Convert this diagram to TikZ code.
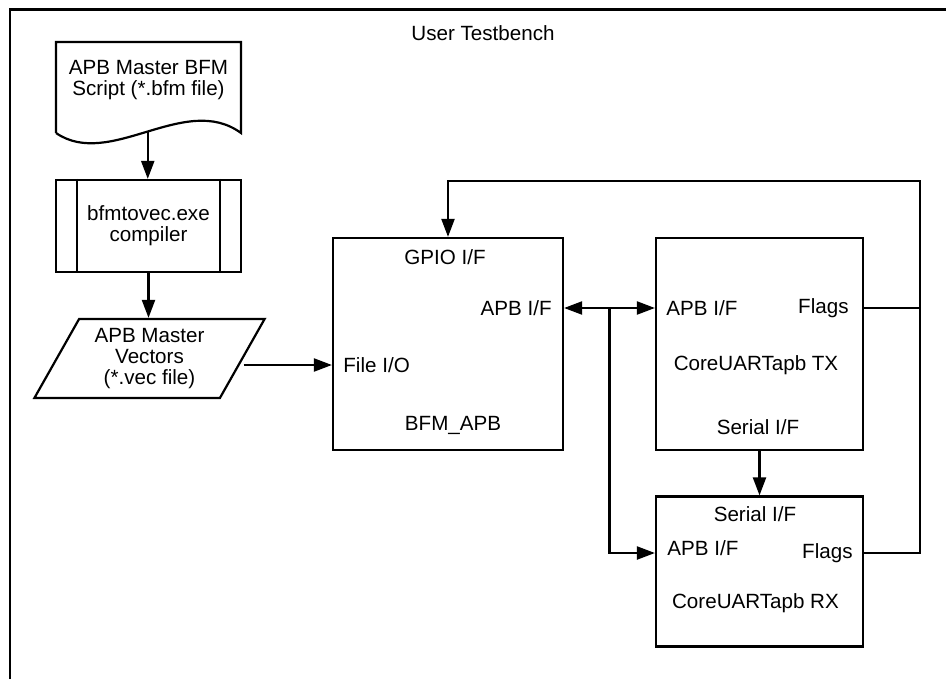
\documentclass[tikz,border=0pt]{standalone}
\usepackage{fontspec}
\setmainfont{Liberation Sans}
\usetikzlibrary{positioning,arrows.meta,shapes.geometric,calc}

\begin{document}
\begin{tikzpicture}[
  x=0.5pt, y=-0.5pt,
  font=\fontsize{10.3}{10.5}\selectfont,
  >={Triangle[length=9pt,width=6.5pt]},
  wire/.style={line width=1.1pt},
  block/.style={draw, wire, inner sep=0pt, minimum width=103.5pt, minimum height=106pt},
  lbl/.style={inner sep=0pt},
  arrow/.style={->, wire},
  dual/.style={<->, wire}
]
\useasboundingbox (0,0) rectangle (946,679);

% testbench frame
\draw[wire] (10,679) -- (10,9.5) -- (946,9.5);
\node (title) at (483,33) {User Testbench};

% script file
\node[align=center, inner sep=0pt, minimum width=92.5pt, minimum height=38pt] (doc) at (148.5,80) {APB Master BFM\\Script (*.bfm file)};
\draw[wire] (56,133) -- (56,42) -- (241,42) -- (241,133)
  .. controls (185,92) and (110,170) .. (56,133) coordinate[pos=0.5] (docwave);

% compiler
\node[draw, wire, align=center, minimum width=92.5pt, minimum height=46pt] (comp) at (148.5,226) {bfmtovec.exe\\compiler};
\draw[wire] ([xshift=11pt]comp.north west) -- ([xshift=11pt]comp.south west);
\draw[wire] ([xshift=-11pt]comp.north east) -- ([xshift=-11pt]comp.south east);

% vectors
\node[draw, wire, trapezium, trapezium left angle=60, trapezium right angle=120, trapezium stretches,
  align=center, inner sep=0pt, minimum width=115.5pt, minimum height=39.5pt] (vec) at (149.5,358.5) {APB Master\\Vectors\\(*.vec file)};

% BFM
\node[block, minimum width=115pt] (bfm) at (448,344) {};
\node[lbl] (gpio) at (445,257) {GPIO I/F};
\node[lbl, anchor=east] (bfmapb) at (552,308) {APB I/F};
\node[lbl, anchor=west] (fileio) at (343,365) {File I/O};
\node[lbl] (bfmname) at (453,425) {BFM\_APB};

% UART TX
\node[block] (tx) at (759.5,344) {};
\node[lbl, anchor=west] (txapb) at (666,308) {APB I/F};
\node[lbl, anchor=east] (txflags) at (849,308) {Flags};
\node[lbl] (txname) at (756,365) {CoreUARTapb TX};
\node[lbl] (txser) at (758,427) {Serial I/F};

% UART RX
\node[block, minimum height=75pt] (rx) at (759.5,571.5) {};
\node[lbl] (rxser) at (755,514) {Serial I/F};
\node[lbl, anchor=west] (rxapb) at (667,548) {APB I/F};
\node[lbl, anchor=east] (rxflags) at (853,553) {Flags};
\node[lbl] (rxname) at (755.5,603) {CoreUARTapb RX};

\coordinate (split) at ($(bfm.east)!0.5!(tx.west)$);
\coordinate (bus) at (920,181);

\draw[arrow] (docwave) -- (docwave |- comp.north);
\draw[arrow] (comp) -- (comp |- vec.north);
\draw[arrow] (vec.east |- fileio) -- (bfm.west |- fileio);
\draw[dual] (bfm.east |- bfmapb) -- (tx.west |- bfmapb);
\draw[arrow] (split |- bfmapb) |- (rx.west |- rxflags);
\draw[arrow] (tx) -- (rx);
\draw[arrow] (rx.east |- rxflags) -| (bus) -| (bfm.north);
\draw[wire] (tx.east |- txflags) -- (bus |- txflags);
\end{tikzpicture}
\end{document}
